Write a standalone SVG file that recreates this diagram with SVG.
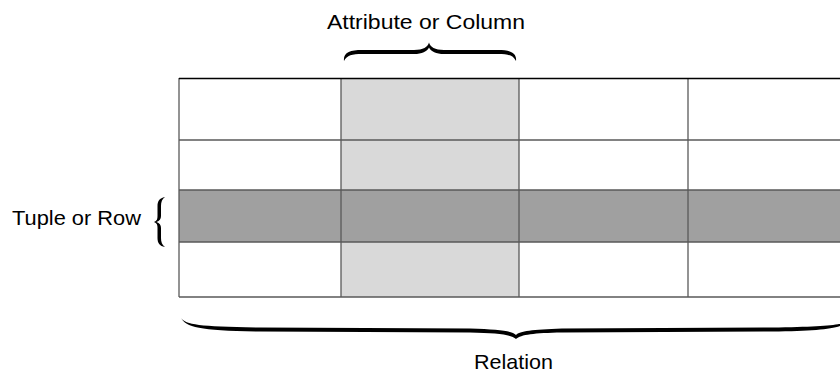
<svg xmlns="http://www.w3.org/2000/svg" width="840" height="372" viewBox="0 0 840 372">
<style>
.lbl{font-family:"Liberation Sans","Arial",sans-serif;font-size:21px;fill:#000}
.grid{stroke:#595959;stroke-width:1.3;fill:none}
.brace{fill:#000}
</style>
<rect width="840" height="372" fill="#fff"/>
<g id="table">
<rect x="179" y="78" width="670" height="219" fill="#fff"/>
<rect id="column-highlight" x="341" y="78" width="178" height="219" fill="#d9d9d9"/>
<rect id="row-highlight" x="179" y="190" width="670" height="52" fill="#a0a0a0"/>
<line class="grid" x1="179" y1="78" x2="179" y2="297"/>
<line class="grid" x1="341" y1="78" x2="341" y2="297"/>
<line class="grid" x1="519" y1="78" x2="519" y2="297"/>
<line class="grid" x1="688" y1="78" x2="688" y2="297"/>
<line class="grid" x1="179" y1="140" x2="840" y2="140"/>
<line class="grid" x1="179" y1="190" x2="840" y2="190"/>
<line class="grid" x1="179" y1="242" x2="840" y2="242"/>
<line class="grid" x1="179" y1="297" x2="840" y2="297"/>
<line x1="179" y1="78.5" x2="840" y2="78.5" stroke="#000" stroke-width="1.3"/>
</g>
<g id="attribute-label">
<path class="brace" d="M344,61 C343,52.5 350,50 362,50 L414,50 C423,50 428,47 429,42.5 C430,47 435,50 444,50 L498,50 C510,50 517,52.5 516,61 C513,55 508,54 498,54 L444,54 C436,54 431,51.5 429,47.5 C427,51.5 422,54 414,54 L362,54 C352,54 347,55 344,61 Z"/>
<text class="lbl" x="426" y="29" text-anchor="middle" textLength="198" lengthAdjust="spacingAndGlyphs">Attribute or Column</text>
</g>
<g id="tuple-label">
<path class="brace" d="M165,197 C159.5,198 157.5,201 157.5,206 L157.5,216 C157.5,219 157,221 154,222 C157,223 157.5,225 157.5,228 L157.5,238 C157.5,243 159.5,246 165,247 C162,245 161,242 161,238 L161,228 C161,225 159.5,223 156.5,222 C159.5,221 161,219 161,216 L161,206 C161,202 162,199 165,197 Z"/>
<text class="lbl" x="12" y="225" textLength="129" lengthAdjust="spacingAndGlyphs">Tuple or Row</text>
</g>
<g id="relation-label">
<path class="brace" d="M181,318 C186,325 200,326.5 260,327.5 L470,328.5 C500,329.5 512,331 516,335 C520,331 532,329.5 562,328.5 L772,327.5 C832,326.5 846,325 851,318 C846,327 832,331 772,331.5 L562,332.5 C534,333 521,334.5 516,339 C511,334.5 498,333 470,332.5 L260,331.5 C200,331 186,327 181,318 Z"/>
<text class="lbl" x="513.5" y="369" text-anchor="middle" textLength="79" lengthAdjust="spacingAndGlyphs">Relation</text>
</g>
<g id="connectors"></g>
</svg>
